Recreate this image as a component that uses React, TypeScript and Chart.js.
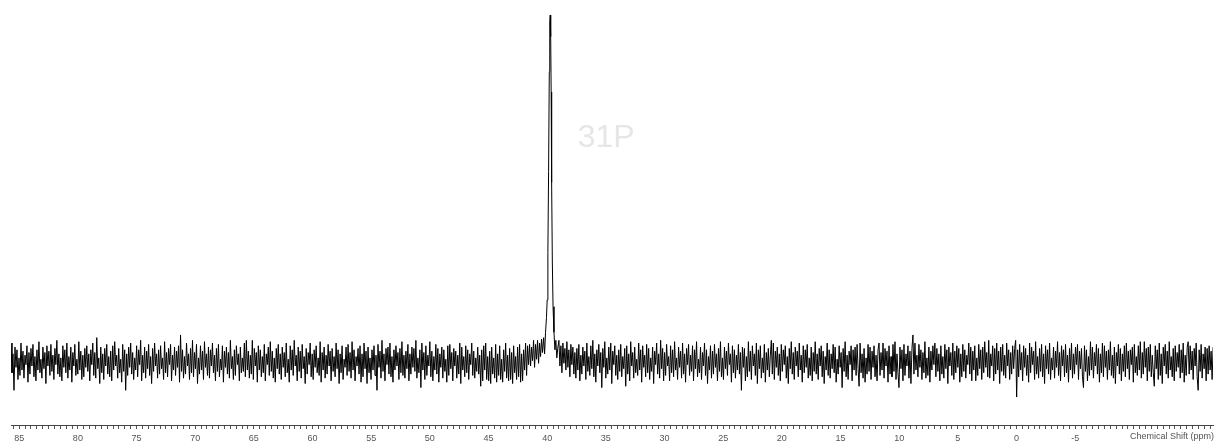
import React, { useEffect, useRef } from "react";
import { Chart, registerables } from "chart.js";

Chart.register(...registerables);

const LEFT_START = 85.7;
const RIGHT_START = 39.0;
const SHIFT_STEP = 0.085;
const AXIS_MIN = -16.75;
const AXIS_MAX = 85.7;
const INTENSITY_MIN = -46.7;
const INTENSITY_MAX = 268.1;

// Baseline noise, 85.7 ppm -> 40.5 ppm (intensity, arbitrary units)
const leftNoise = [
  14, -8, 6, -21, 11, -4, 9, -13, 3, -10, 14, -6, 8, -12, 5, -2, 12, -15, 7, -9,
  10, -3, 13, -11, 4, -14, 9, -6, 15, -8, 2, -12, 11, -5, 7, -16, 12, -3, 8, -10,
  13, -7, 5, -13, 10, -2, 16, -9, 6, -11, 3, -14, 12, -4, 9, -8, 14, -12, 4, -6,
  11, -15, 7, -3, 13, -10, 2, -9, 15, -6, 8, -13, 5, -11, 10, -4, 12, -7, 6, -14,
  9, -2, 14, -10, 7, -12, 18, -5, 3, -16, 11, -8, 6, -13, 10, -3, 13, -9, 4, -11,
  8, -14, 12, -6, 15, -3, 5, -12, 10, -8, 2, -15, 13, -7, 9, -21, 6, -10, 11, -4,
  14, -9, 7, -13, 3, -6, 12, -11, 9, -2, 16, -14, 5, -8, 11, -12, 8, -5, 13, -10,
  4, -16, 10, -7, 14, -3, 6, -12, 9, -9, 12, -5, 3, -13, 15, -8, 7, -11, 10, -2,
  13, -14, 5, -6, 11, -10, 8, -4, 12, -15, 20, -7, 9, -12, 4, -9, 14, -3, 6, -13,
  10, -8, 16, -11, 7, -5, 13, -16, 3, -9, 12, -6, 8, -13, 15, -4, 6, -10, 11, -12,
  9, -3, 14, -8, 5, -14, 10, -7, 13, -11, 2, -6, 12, -15, 8, -4, 11, -9, 7, -12,
  16, -5, 4, -13, 9, -10, 12, -2, 6, -14, 11, -8, 3, -7, 14, -11, 16, -6, 8, -12,
  5, -9, 16, -13, 10, -3, 7, -15, 12, -6, 9, -11, 4, -8, 13, -14, 6, -2, 11, -10,
  15, -7, 8, -12, 3, -15, 10, -5, 13, -9, 6, -13, 11, -4, 7, -11, 14, -8, 2, -15,
  12, -6, 9, -10, 16, -3, 5, -14, 11, -7, 8, -12, 13, -5, 4, -16, 10, -9, 7, -2,
  14, -11, 6, -13, 9, -4, 12, -8, 3, -10, 15, -15, 7, -6, 11, -12, 5, -9, 13, -3,
  8, -14, 10, -7, 4, -11, 14, -5, 9, -16, 6, -8, 12, -13, 2, -4, 11, -10, 13, -7,
  7, -12, 15, -6, 9, -14, 4, -3, 10, -9, 12, -15, 6, -11, 14, -5, 8, -16, 11, -8,
  3, -13, 9, -6, 12, -10, 5, -21, 13, -4, 8, -12, 16, -7, 6, -14, 10, -2, 11, -9,
  14, -11, 4, -15, 9, -6, 12, -3, 7, -13, 10, -8, 15, -10, 5, -12, 8, -5, 13, -14,
  6, -9, 11, -4, 10, -7, 16, -12, 3, -8, 9, -19, 14, -6, 7, -13, 12, -10, 5, -3,
  15, -11, 8, -14, 4, -6, 13, -9, 10, -15, 6, -4, 11, -12, 9, -7, 2, -15, 12, -10,
  13, -5, 7, -14, 10, -3, 8, -12, 5, -9, 14, -16, 11, -6, 4, -11, 12, -8, 9, -13,
  6, -2, 14, -10, 8, -12, 3, -7, 11, -9, 5, -18, 9, -14, 12, -6, 14, -13, 4, -14,
  8, -16, 11, -9, 3, -12, 13, -15, 6, -10, 12, -13, 2, -15, 9, -7, 14, -12, 5, -14,
  10, -13, 7, -16, 12, -8, 4, -13, 11, -11, 13, -15, 6, -14, 9, -6, 14, -10, 12, -2,
  13, -3, 11, 1, 16, -4, 13, 2, 16, -1, 14, 4, 17,
];

// The 31P signal near 39.7 ppm
const peakShift = [
  40.4, 40.3, 40.22, 40.14, 40.06, 40.0, 39.94, 39.88, 39.82, 39.78, 39.74,
  39.7, 39.66, 39.62, 39.56, 39.5, 39.42, 39.34, 39.26, 39.18, 39.1,
];
const peakIntensity = [
  7, 18, 6, 22, 33, 46, 81, 141, 215, 252, 257,
  241, 200, 133, 74, 41, 22, 9, 16, 3, 10,
];

// Baseline noise, 39.0 ppm -> -16.8 ppm
const rightNoise = [
  16, -3, 12, -8, 14, -1, 10, -6, 15, -4, 9, -11, 13, -2, 11, -9, 7, -12, 10, -6,
  13, -14, 5, -9, 11, -3, 8, -13, 14, -7, 4, -10, 12, -5, 16, -11, 6, -15, 9, -3,
  13, -8, 7, -19, 10, -4, 15, -12, 3, -9, 11, -6, 14, -16, 8, -2, 12, -10, 5, -13,
  9, -7, 13, -11, 4, -5, 10, -18, 12, -9, 6, -14, 15, -3, 7, -12, 11, -8, 2, -10,
  14, -6, 9, -15, 12, -4, 5, -11, 13, -8, 10, -13, 3, -7, 11, -16, 8, -2, 14, -9,
  6, -12, 16, -5, 10, -14, 7, -10, 13, -3, 4, -14, 12, -8, 9, -11, 15, -6, 3, -13,
  11, -4, 8, -12, 14, -9, 6, -15, 10, -2, 13, -10, 5, -7, 12, -14, 9, -5, 15, -11,
  2, -8, 11, -13, 7, -3, 14, -10, 9, -16, 4, -6, 12, -12, 8, -9, 13, -4, 6, -14,
  10, -7, 15, -11, 3, -13, 11, -5, 8, -10, 14, -2, 6, -15, 12, -8, 9, -12, 5, -6,
  13, -9, 7, -21, 11, -4, 10, -14, 4, -11, 15, -7, 8, -13, 12, -3, 6, -10, 14, -16,
  9, -5, 12, -12, 3, -8, 13, -15, 7, -6, 10, -11, 5, 16, -9, 14, -13, 8, -4, 11,
  -10, 6, -14, 13, -7, 9, -2, 12, -12, 4, -16, 10, -5, 15, -9, 7, -13, 11, -3, 8,
  -11, 14, -6, 5, -15, 12, -8, 9, -4, 13, -12, 3, -10, 11, -14, 7, -7, 15, -9, 6,
  -13, 10, -3, 12, -11, 8, -16, 4, -6, 14, -10, 9, -12, 6, -5, 13, -8, 11, -15, 2,
  -9, 12, -4, 7, -19, 10, -7, 15, -11, 5, -13, 8, -2, 12, -14, 9, -6, 11, -10, 13,
  -5, -18, 14, -8, 6, -12, 10, -15, 3, -9, 13, -7, 11, -13, 8, -4, 12, -11, 5, -14,
  9, 14, -10, 7, -6, 14, -12, 10, -3, 8, -15, 12, -9, 4, -11, 13, -7, 15, -13, 6,
  -8, -19, 11, -5, 9, -14, 13, -10, 6, -3, 12, -12, 8, -16, 10, 20, -9, 14, -6, 5,
  -11, 13, -4, 9, -13, 7, -8, 15, -12, 3, -10, 11, -15, 8, -6, 12, -2, 14, -11, 10,
  -7, 6, -14, 12, -9, 4, -12, 13, -5, 9, -16, 11, -3, 7, -10, 14, -13, 8, -8, 12,
  -4, 10, -15, 6, -11, 13, -7, 9, -12, 5, -2, 14, -9, 11, -14, 8, -6, 12, -14, 3,
  -10, 13, -5, 9, -13, 11, -8, 15, -4, 7, -11, 16, -12, 6, -3, 12, -14, 10, -9, 14,
  -6, 8, -16, 11, -7, 13, -10, 5, -12, 14, -3, 9, -13, 7, -9, 12, -5, 10, 16, -26,
  9, -11, 13, -6, 7, -14, 12, -4, 10, -10, 5, -15, 14, -8, 11, -2, 8, -13, 15, -9,
  4, -12, 10, -7, 13, -11, 6, -16, 12, -5, 9, -9, 14, -13, 3, -6, 11, -12, 8, -4,
  15, -10, 7, -14, 12, -3, 9, -11, 13, -8, 5, -15, 10, -6, 14, -12, 6, -9, 11, -2,
  13, -13, 8, -5, 10, -11, -19, 12, -7, 9, -14, 4, -10, 15, -6, 11, -12, 7, -3, 13,
  -9, 10, -15, 6, -8, 14, -11, 12, -4, 8, -13, 9, -6, 15, -10, 5, -12, 11, -16, 7,
  -3, 13, -9, 10, -14, 6, -7, 12, -11, 14, -5, 8, -13, 9, -2, 11, -15, 13, -8, 4,
  -10, 12, -6, 15, -12, 7, -9, 15, -4, 10, -14, 11, -7, 13, -11, 5, -8, -18, 12, -5,
  9, -13, 14, -10, 6, -16, 11, -3, 13, -9, 8, -12, 15, -6, 4, -11, 10, -14, 12, -7,
  7, -4, 13, -12, 9, -8, 14, -15, 5, -10, 11, 15, -9, 12, -6, 8, -13, 10, -3, 14,
  -11, -21, 9, -7, 13, -12, 6, -5, 11, -14, 10, -9, 12, -6, 8, -13, 11,
];

const NUCLEUS_LABEL = "31P";
const AXIS_TITLE = "Chemical Shift (ppm)";

function buildPoints() {
  const pts: { x: number; y: number }[] = [];
  leftNoise.forEach((v, i) => pts.push({ x: +(LEFT_START - i * SHIFT_STEP).toFixed(4), y: v }));
  peakShift.forEach((s, i) => pts.push({ x: s, y: peakIntensity[i] }));
  rightNoise.forEach((v, i) => pts.push({ x: +(RIGHT_START - i * SHIFT_STEP).toFixed(4), y: v }));
  return pts;
}

const FONT = "'Liberation Sans', Arial, sans-serif";

const overlayPlugin = {
  id: "nmrOverlay",
  afterDraw(chart: any) {
    const { ctx, chartArea } = chart;
    const xs = chart.scales.x;
    ctx.save();
    ctx.fillStyle = "#e6e6e6";
    ctx.font = `32px ${FONT}`;
    ctx.textAlign = "left";
    ctx.textBaseline = "alphabetic";
    ctx.fillText(NUCLEUS_LABEL, xs.getPixelForValue(37.4), 147);
    ctx.fillStyle = "#555";
    ctx.font = `9px ${FONT}`;
    ctx.textAlign = "right";
    ctx.textBaseline = "middle";
    ctx.fillText(AXIS_TITLE, chartArea.right + 1, chartArea.bottom + 11.5);
    ctx.restore();
  },
};

export default function App() {
  const ref = useRef<HTMLCanvasElement | null>(null);
  useEffect(() => {
    if (!ref.current) return;
    const chart = new Chart(ref.current, {
      type: "line",
      data: {
        datasets: [
          {
            data: buildPoints(),
            borderColor: "#000",
            borderWidth: 1,
            pointRadius: 0,
            tension: 0,
            fill: false,
          },
        ],
      },
      options: {
        animation: false,
        responsive: false,
        parsing: false as any,
        layout: { padding: { left: 11, right: 2, top: 0, bottom: 0 } },
        plugins: { legend: { display: false }, tooltip: { enabled: false }, title: { display: false } },
        scales: {
          x: {
            type: "linear",
            reverse: true,
            min: AXIS_MIN,
            max: AXIS_MAX,
            afterFit: (scale: any) => {
              scale.height = 17;
            },
            border: { display: true, color: "#444", width: 1 },
            grid: { display: true, drawOnChartArea: false, drawTicks: true, tickLength: 4, tickColor: "#555" },
            ticks: {
              stepSize: 0.5,
              autoSkip: false,
              maxRotation: 0,
              includeBounds: false,
              padding: 4,
              color: "#555",
              font: { size: 9, family: FONT },
              callback: (v: any) => {
                const n = Number(v);
                const r = Math.round(n);
                if (Math.abs(n - r) < 1e-6 && r % 5 === 0 && r > -10) return String(r);
                return "";
              },
            },
          },
          y: {
            type: "linear",
            display: false,
            min: INTENSITY_MIN,
            max: INTENSITY_MAX,
          },
        },
      },
      plugins: [overlayPlugin],
    });
    return () => chart.destroy();
  }, []);
  return (
    <div style={{ position: "absolute", left: 0, top: 0, width: 1215, height: 442, background: "#fff" }}>
      <canvas ref={ref} width={1215} height={442} style={{ display: "block" }} />
    </div>
  );
}
